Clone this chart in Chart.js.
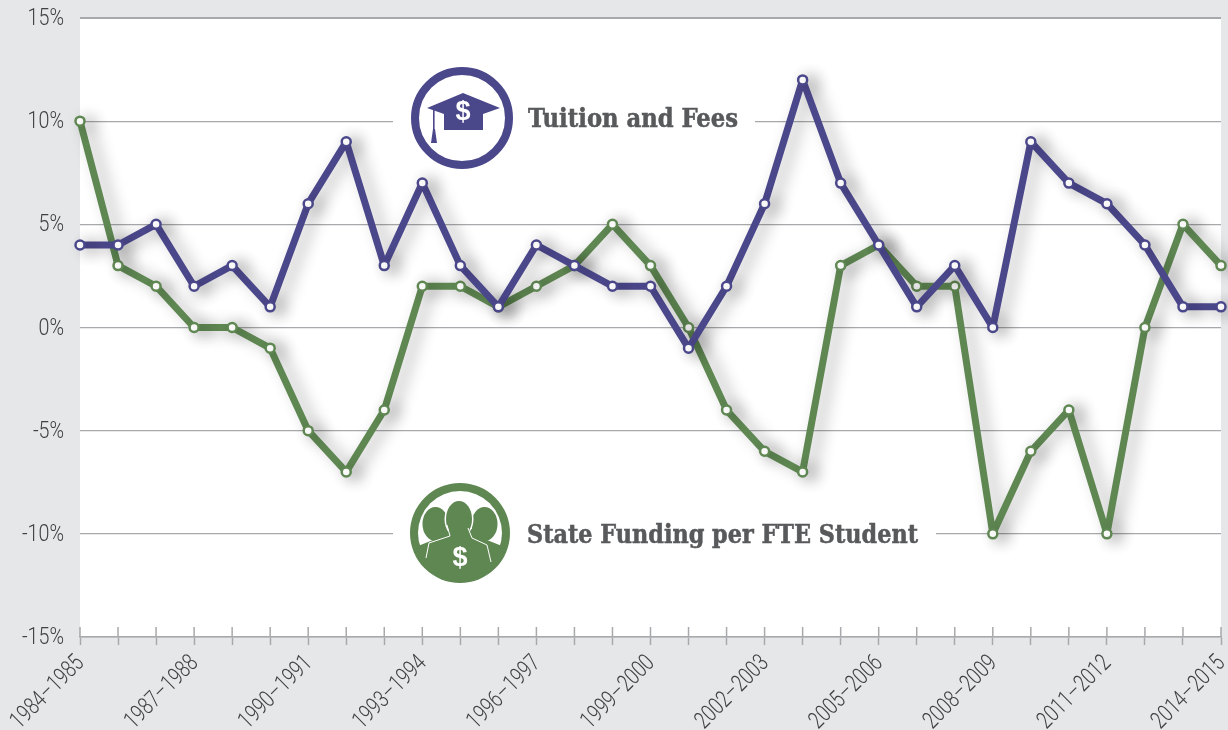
<!DOCTYPE html>
<html>
<head>
<meta charset="utf-8">
<script src="https://cdn.jsdelivr.net/npm/chart.js@4"></script>
<style>
  html, body { margin: 0; padding: 0; background: #e6e7e9; overflow: hidden; }
  canvas { display: block; }
</style>
</head>
<body>
<canvas id="trendChart" width="1228" height="730"></canvas>
<script>
const categories = ['1984–1985', '1985–1986', '1986–1987', '1987–1988', '1988–1989', '1989–1990', '1990–1991', '1991–1992',
    '1992–1993', '1993–1994', '1994–1995', '1995–1996', '1996–1997', '1997–1998', '1998–1999', '1999–2000', '2000–2001',
    '2001–2002', '2002–2003', '2003–2004', '2004–2005', '2005–2006', '2006–2007', '2007–2008', '2008–2009', '2009–2010',
    '2010–2011', '2011–2012', '2012–2013', '2013–2014', '2014–2015'];
const tuitionValues = [4, 4, 5, 2, 3, 1, 6, 9, 3, 7, 3, 1, 4, 3, 2, 2, -1, 2, 6, 12, 7, 4, 1, 3, 0, 9, 7, 6, 4, 1, 1];
const fundingValues = [10, 3, 2, 0, 0, -1, -5, -7, -4, 2, 2, 1, 2, 3, 5, 3, 0, -4, -6, -7, 3, 4, 2, 2, -10, -6, -4, -10, 0, 5, 3];

const PURPLE = '#4b478b';
const GREEN = '#5f8752';
const GRID = '#a7a9ac';
const LABEL_FONT = 'bold 25.5px "DejaVu Serif Condensed", "DejaVu Serif", serif';
const TICK_FONT = '300 24px Roboto, sans-serif';
const TICK_COLOR = '#414042';
const NARROW_Y = 0.82;   // no condensed sans installed, so squeeze the tick text
const NARROW_X = 0.76;

function drawCapIcon(ctx, cx, cy) {
    ctx.save();
    ctx.strokeStyle = PURPLE;
    ctx.lineWidth = 8;
    ctx.beginPath();
    ctx.arc(cx, cy, 47, 0, Math.PI * 2);
    ctx.stroke();

    ctx.fillStyle = PURPLE;
    ctx.beginPath();
    ctx.moveTo(cx - 35, cy - 10);
    ctx.lineTo(cx + 1, cy - 25);
    ctx.lineTo(cx + 38, cy - 10);
    ctx.lineTo(cx + 21, cy - 4);
    ctx.lineTo(cx + 21, cy + 12);
    ctx.lineTo(cx - 18, cy + 12);
    ctx.lineTo(cx - 18, cy - 4);
    ctx.closePath();
    ctx.fill();

    // tassel
    ctx.fillRect(cx - 29, cy - 8, 1.6, 20);
    ctx.beginPath();
    ctx.moveTo(cx - 29, cy + 11);
    ctx.lineTo(cx - 27, cy + 11);
    ctx.lineTo(cx - 25, cy + 25);
    ctx.lineTo(cx - 31, cy + 25);
    ctx.closePath();
    ctx.fill();

    ctx.fillStyle = '#fff';
    ctx.font = 'bold 27px "Liberation Sans", sans-serif';
    ctx.textAlign = 'center';
    ctx.textBaseline = 'middle';
    ctx.fillText('$', cx + 1, cy - 5);
    ctx.restore();
}

function drawPersonHead(ctx, x, y, rx, ry) {
    ctx.beginPath();
    ctx.ellipse(x, y, rx, ry, 0, 0, Math.PI * 2);
    ctx.fill();
}

function drawPeopleIcon(ctx, cx, cy) {
    ctx.save();
    ctx.fillStyle = GREEN;
    ctx.beginPath();
    ctx.arc(cx, cy, 50, 0, Math.PI * 2);
    ctx.fill();
    ctx.fillStyle = '#fff';
    ctx.beginPath();
    ctx.arc(cx, cy, 42, 0, Math.PI * 2);
    ctx.fill();

    ctx.beginPath();
    ctx.arc(cx, cy, 49, 0, Math.PI * 2);
    ctx.clip();

    ctx.fillStyle = GREEN;
    drawPersonHead(ctx, cx - 24.5, cy - 9, 13, 17);
    drawPersonHead(ctx, cx + 24.5, cy - 9, 13, 17);
    ctx.beginPath();
    ctx.moveTo(cx - 42, cy + 13);
    ctx.lineTo(cx - 27, cy + 7);
    ctx.lineTo(cx - 29, cy - 4);
    ctx.lineTo(cx + 29, cy - 4);
    ctx.lineTo(cx + 27, cy + 7);
    ctx.lineTo(cx + 42, cy + 13);
    ctx.lineTo(cx + 50, cy + 50);
    ctx.lineTo(cx - 50, cy + 50);
    ctx.closePath();
    ctx.fill();

    // white edge round the front figure, then the figure itself
    ctx.fillStyle = '#fff';
    drawPersonHead(ctx, cx - 1, cy - 14, 14.5, 19);
    ctx.fillStyle = GREEN;
    drawPersonHead(ctx, cx - 1, cy - 14, 13, 18);
    ctx.beginPath();
    ctx.moveTo(cx - 11, cy - 5);
    ctx.lineTo(cx + 9, cy - 5);
    ctx.lineTo(cx + 12, cy + 8);
    ctx.lineTo(cx - 14, cy + 8);
    ctx.closePath();
    ctx.fill();

    ctx.strokeStyle = '#fff';
    ctx.lineWidth = 1;
    ctx.beginPath();
    ctx.moveTo(cx - 34, cy + 25);
    ctx.lineTo(cx - 31, cy + 10);
    ctx.lineTo(cx - 10, cy + 3);
    ctx.lineTo(cx - 13, cy - 8);
    ctx.stroke();
    ctx.beginPath();
    ctx.moveTo(cx + 31, cy + 29);
    ctx.lineTo(cx + 27, cy + 12);
    ctx.lineTo(cx + 12, cy + 5);
    ctx.lineTo(cx + 8, cy - 5);
    ctx.stroke();

    ctx.fillStyle = '#fff';
    ctx.font = 'bold 27px "Liberation Sans", sans-serif';
    ctx.textAlign = 'center';
    ctx.textBaseline = 'middle';
    ctx.fillText('$', cx, cy + 26);
    ctx.restore();
}

function drawCaption(ctx, text, x, y, maxWidth) {
    ctx.fillStyle = '#58595b';
    ctx.strokeStyle = '#58595b';
    ctx.lineWidth = 0.5;
    ctx.font = LABEL_FONT;
    ctx.textBaseline = 'middle';
    ctx.fillText(text, x, y, maxWidth);
    ctx.strokeText(text, x, y, maxWidth);
}

const decorations = {
    id: 'decorations',
    beforeDraw(chart) {
        const ctx = chart.ctx;
        const area = chart.chartArea;
        ctx.save();
        ctx.fillStyle = '#fff';
        ctx.fillRect(area.left, area.top, area.right - area.left, area.bottom - area.top);
        ctx.restore();
    },
    beforeDatasetsDraw(chart) {
        const ctx = chart.ctx;
        const y = chart.scales.y;
        const x = chart.scales.x;

        // gridlines stop either side of the two captions
        ctx.save();
        ctx.fillStyle = '#fff';
        ctx.fillRect(393, y.getPixelForValue(10) - 2, 362, 4);
        ctx.fillRect(393, y.getPixelForValue(-10) - 2, 543, 4);

        // x ticks straddle the axis
        ctx.strokeStyle = GRID;
        ctx.lineWidth = 1.5;
        categories.forEach(function (c, i) {
            const px = x.getPixelForValue(i);
            ctx.beginPath();
            ctx.moveTo(px, chart.chartArea.bottom - 10);
            ctx.lineTo(px, chart.chartArea.bottom);
            ctx.stroke();
        });

        drawCaption(ctx, 'Tuition and Fees', 528, y.getPixelForValue(10) - 1, 210);
        drawCaption(ctx, 'State Funding per FTE Student', 527, y.getPixelForValue(-10) + 3, 391);
        ctx.restore();

        drawCapIcon(ctx, 462, 118);
        drawPeopleIcon(ctx, 460, 533);
    },
    beforeDatasetDraw(chart) {
        const ctx = chart.ctx;
        ctx.save();
        ctx.shadowColor = 'rgba(0, 0, 0, 0.3)';
        ctx.shadowBlur = 16;
        ctx.shadowOffsetX = 8;
        ctx.shadowOffsetY = 2;
    },
    afterDatasetDraw(chart) {
        chart.ctx.restore();
    },
    afterDraw(chart) {
        // tick labels come from the scales, drawn here so they can be squeezed
        const ctx = chart.ctx;
        const xScale = chart.scales.x;
        const yScale = chart.scales.y;
        ctx.save();
        ctx.fillStyle = TICK_COLOR;
        ctx.font = TICK_FONT;
        ctx.textAlign = 'right';

        yScale.ticks.forEach(function (tick) {
            ctx.save();
            ctx.translate(64, yScale.getPixelForValue(tick.value) + 1);
            ctx.scale(NARROW_Y, 1);
            ctx.textBaseline = 'middle';
            ctx.fillText(tick.label, 0, 0);
            ctx.restore();
        });

        xScale.ticks.forEach(function (tick, i) {
            if (!tick.label) return;
            ctx.save();
            ctx.translate(xScale.getPixelForValue(i) + 5, 664);
            ctx.rotate(-Math.PI / 4);
            ctx.scale(NARROW_X, 1);
            ctx.textBaseline = 'alphabetic';
            ctx.fillText(tick.label, 0, 0);
            ctx.restore();
        });
        ctx.restore();
    }
};

function makeDataset(label, values, color) {
    return {
        label: label,
        data: values,
        borderColor: color,
        borderWidth: 7,
        borderJoinStyle: 'round',
        tension: 0,
        clip: false,
        pointRadius: 4.5,
        pointBorderWidth: 2.5,
        pointBorderColor: color,
        pointBackgroundColor: '#fff'
    };
}

new Chart(document.getElementById('trendChart'), {
    type: 'line',
    data: {
        labels: categories,
        datasets: [
            makeDataset('Tuition and Fees', tuitionValues, PURPLE),
            makeDataset('State Funding per FTE Student', fundingValues, GREEN)
        ]
    },
    options: {
        responsive: false,
        animation: false,
        layout: {
            padding: { left: 0, top: 18, right: 4, bottom: 0 }
        },
        plugins: {
            legend: { display: false },
            tooltip: { enabled: false }
        },
        scales: {
            x: {
                afterFit: function (scale) { scale.height = 93; },
                grid: { drawOnChartArea: false, tickLength: 8, tickColor: GRID, tickWidth: 1.5 },
                border: { color: GRID, width: 1.5 },
                ticks: {
                    display: false,
                    autoSkip: false,
                    callback: function (value, index) {
                        return index % 3 === 0 ? categories[index] : '';
                    }
                }
            },
            y: {
                min: -15,
                max: 15,
                afterFit: function (scale) { scale.width = 80; },
                border: { display: false },
                grid: {
                    drawTicks: false,
                    color: GRID,
                    lineWidth: function (ctx) { return ctx.tick.value === 15 ? 2 : 1.2; }
                },
                ticks: {
                    display: false,
                    stepSize: 5,
                    callback: function (value) { return value + '%'; }
                }
            }
        }
    },
    plugins: [decorations]
});
</script>
</body>
</html>
